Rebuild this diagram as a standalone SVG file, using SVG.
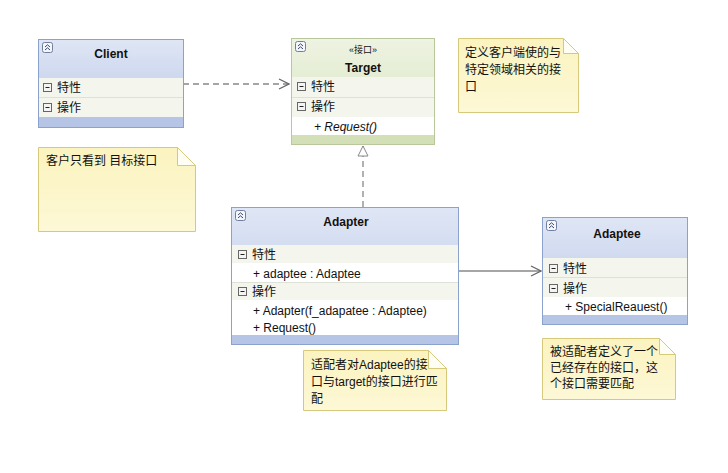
<svg xmlns="http://www.w3.org/2000/svg" width="728" height="473" viewBox="0 0 728 473">
<defs>
<linearGradient id="hb" x1="0" y1="0" x2="0" y2="1"><stop offset="0" stop-color="#dfe6f5"/><stop offset="1" stop-color="#b8c6e6"/></linearGradient>
<linearGradient id="hg" x1="0" y1="0" x2="0" y2="1"><stop offset="0" stop-color="#eef3e2"/><stop offset="1" stop-color="#d6e3bd"/></linearGradient>
<linearGradient id="nf" x1="0" y1="0" x2="0" y2="1"><stop offset="0" stop-color="#fbf3bf"/><stop offset="1" stop-color="#fdf8d6"/></linearGradient>
<marker id="open" viewBox="0 0 12 12" refX="11" refY="6" markerWidth="12" markerHeight="12" markerUnits="userSpaceOnUse" orient="auto"><path d="M1,1 L11,6 L1,11" fill="none" stroke="#666" stroke-width="1.3"/></marker>
<marker id="tri" viewBox="0 0 12 12" refX="11" refY="6" markerWidth="12" markerHeight="12" markerUnits="userSpaceOnUse" orient="auto"><path d="M1,1 L11,6 L1,11 Z" fill="#fff" stroke="#888" stroke-width="1"/></marker>
<g id="col"><rect x="0.5" y="0.5" width="10" height="10" rx="2" fill="#f4f6fb" stroke="#6f7f9f"/><path d="M3,5 L5.5,2.8 L8,5 M3,8 L5.5,5.8 L8,8" fill="none" stroke="#3b4a6b" stroke-width="1"/></g>
<g id="minus"><rect x="0.5" y="0.5" width="8" height="8" fill="#f4f4f4" stroke="#666"/><path d="M2.5,4.5 H6.5" stroke="#222" stroke-width="1"/></g>
</defs>
<style>
text{font-family:"Liberation Sans","Noto Sans CJK SC",sans-serif;font-size:12px;fill:#111}
.t{font-weight:bold;text-anchor:middle}
.st{font-size:9px;text-anchor:middle}
.it{font-style:italic}
.bb{stroke:#8aa2cc;stroke-width:1}
.gb{stroke:#b9c79c;stroke-width:1}
.pale{fill:#f4f6ee}
.sep{stroke:#dde2d8;stroke-width:1}
.bandb{fill:#b6c4e5}
.bandg{fill:#d3e0b7}
.note{fill:url(#nf);stroke:#d7c97c;stroke-width:1}
.fold{fill:#fffef4;stroke:#d7c97c;stroke-width:1}
.conn{stroke:#888;stroke-width:1.3;fill:none}
</style>
<rect width="728" height="473" fill="#fff"/>

<g id="connectors">
<path class="conn" d="M183,84 H289" stroke-dasharray="6,4" marker-end="url(#open)"/>
<path class="conn" d="M363,207 V146" stroke-dasharray="6,4" marker-end="url(#tri)"/>
<path class="conn" d="M458,271 H541" marker-end="url(#open)"/>
</g>

<g id="client">
<rect x="38.5" y="39.5" width="145" height="88" fill="url(#hb)" class="bb"/>
<rect x="39" y="78" width="144" height="39" class="pale"/>
<line x1="39" y1="97.5" x2="183" y2="97.5" class="sep"/>
<rect x="39" y="117" width="144" height="10" class="bandb"/>
<rect x="38.5" y="39.5" width="145" height="88" fill="none" class="bb"/>
<use href="#col" x="42" y="42"/>
<text x="111" y="58" class="t">Client</text>
<use href="#minus" x="43" y="83"/><text x="57" y="92">特性</text>
<use href="#minus" x="43" y="103"/><text x="57" y="112">操作</text>
</g>

<g id="target">
<rect x="291.5" y="38.5" width="143" height="106" fill="url(#hg)" class="gb"/>
<rect x="292" y="77" width="142" height="40" class="pale"/>
<line x1="292" y1="97.5" x2="434" y2="97.5" class="sep"/>
<rect x="292" y="117" width="142" height="18" fill="#fff"/>
<rect x="292" y="135" width="142" height="9" class="bandg"/>
<rect x="291.5" y="38.5" width="143" height="106" fill="none" class="gb"/>
<use href="#col" x="295" y="41"/>
<text x="363" y="53" class="st">«接口»</text>
<text x="363" y="72" class="t">Target</text>
<use href="#minus" x="297" y="82"/><text x="311" y="91">特性</text>
<use href="#minus" x="297" y="102"/><text x="311" y="111">操作</text>
<text x="314" y="131" class="it">+ Request()</text>
</g>

<g id="note1">
<path d="M458.5,38.5 H563.5 L578.5,53.5 V112.5 H458.5 Z" class="note"/>
<path d="M563.5,38.5 V53.5 H578.5 Z" class="fold"/>
<text x="465" y="57">定义客户端使的与</text>
<text x="465" y="74">特定领域相关的接</text>
<text x="465" y="91">口</text>
</g>

<g id="note2">
<path d="M38.5,147.5 H177.5 L195.5,165.5 V231.5 H38.5 Z" class="note"/>
<path d="M177.5,147.5 V165.5 H195.5 Z" class="fold"/>
<text x="46" y="165">客户只看到 目标接口</text>
</g>

<g id="adapter">
<rect x="231.5" y="207.5" width="227" height="137" fill="url(#hb)" class="bb"/>
<rect x="232" y="245" width="226" height="18" class="pale"/>
<rect x="232" y="263" width="226" height="19" fill="#fff"/>
<rect x="232" y="282" width="226" height="18" class="pale"/>
<rect x="232" y="300" width="226" height="35" fill="#fff"/>
<rect x="232" y="335" width="226" height="9" class="bandb"/>
<line x1="232" y1="282.5" x2="458" y2="282.5" class="sep"/>
<rect x="231.5" y="207.5" width="227" height="137" fill="none" class="bb"/>
<use href="#col" x="235" y="210"/>
<text x="346" y="226" class="t">Adapter</text>
<use href="#minus" x="238" y="250"/><text x="252" y="259">特性</text>
<text x="253" y="278">+ adaptee : Adaptee</text>
<use href="#minus" x="238" y="287"/><text x="252" y="296">操作</text>
<text x="253" y="315">+ Adapter(f_adapatee : Adaptee)</text>
<text x="253" y="332">+ Request()</text>
</g>

<g id="adaptee">
<rect x="542.5" y="217.5" width="145" height="107" fill="url(#hb)" class="bb"/>
<rect x="543" y="258" width="144" height="39" class="pale"/>
<line x1="543" y1="277.5" x2="687" y2="277.5" class="sep"/>
<rect x="543" y="297" width="144" height="18" fill="#fff"/>
<rect x="543" y="315" width="144" height="9" class="bandb"/>
<rect x="542.5" y="217.5" width="145" height="107" fill="none" class="bb"/>
<use href="#col" x="546" y="220"/>
<text x="617" y="238" class="t">Adaptee</text>
<use href="#minus" x="549" y="264"/><text x="563" y="273">特性</text>
<use href="#minus" x="549" y="284"/><text x="563" y="293">操作</text>
<text x="565" y="311">+ SpecialReauest()</text>
</g>

<g id="note3">
<path d="M303.5,350.5 H428.5 L446.5,368.5 V410.5 H303.5 Z" class="note"/>
<path d="M428.5,350.5 V368.5 H446.5 Z" class="fold"/>
<text x="311" y="369">适配者对Adaptee的接</text>
<text x="311" y="386">口与target的接口进行匹</text>
<text x="311" y="403">配</text>
</g>

<g id="note4">
<path d="M542.5,338.5 H659.5 L675.5,354.5 V399.5 H542.5 Z" class="note"/>
<path d="M659.5,338.5 V354.5 H675.5 Z" class="fold"/>
<text x="550" y="356">被适配者定义了一个</text>
<text x="550" y="372">已经存在的接口，这</text>
<text x="550" y="388">个接口需要匹配</text>
</g>
</svg>
